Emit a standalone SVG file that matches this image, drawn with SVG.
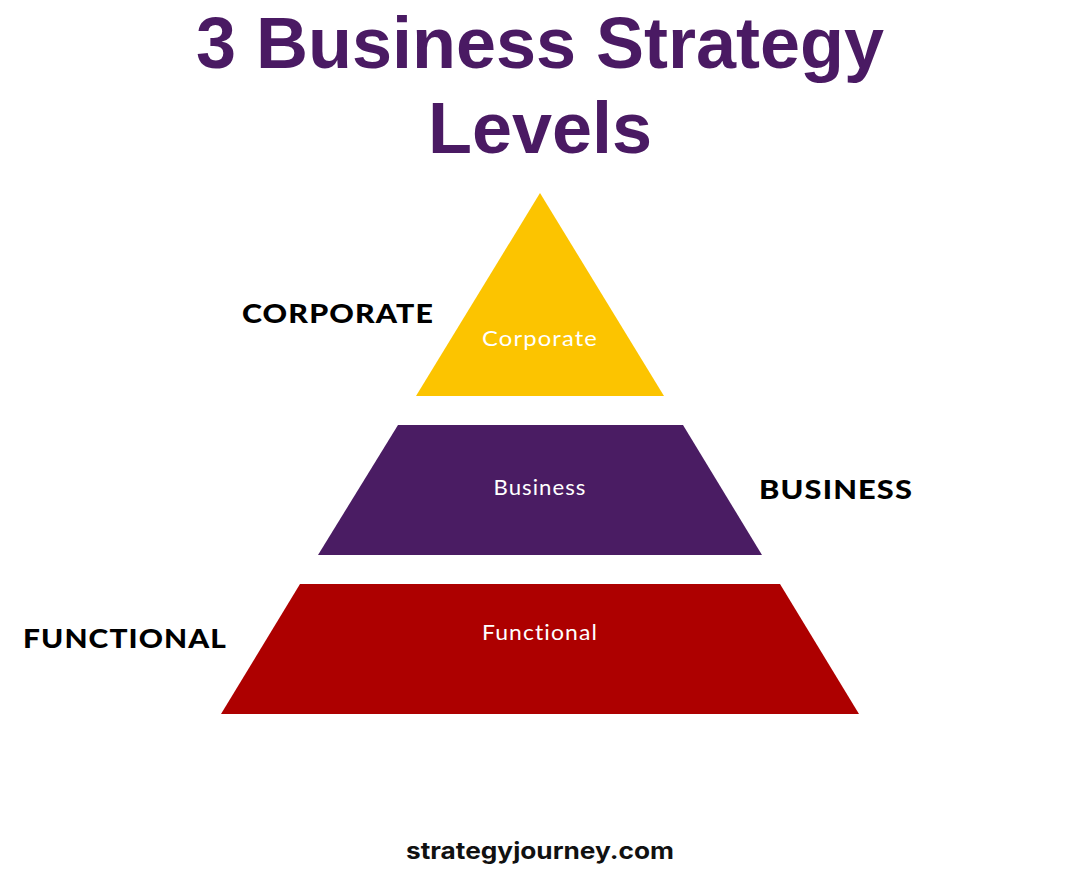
<svg xmlns="http://www.w3.org/2000/svg" width="1080" height="880" viewBox="0 0 1080 880">
<style>
.title{font-family:"Liberation Sans",Arial,sans-serif;font-weight:bold;font-size:72px;fill:#4A1A63;text-anchor:middle}
.side{font-family:Lato,"Noto Sans",sans-serif;font-weight:900;font-size:27px;letter-spacing:1px;fill:#000}
.inner{font-family:Lato,"Open Sans",sans-serif;font-weight:400;font-size:21px;letter-spacing:1px;fill:#fff;text-anchor:middle}
.foot{font-family:Inter,"Liberation Sans",sans-serif;font-weight:700;font-size:23px;fill:#111}
</style>
<rect width="1080" height="880" fill="#fff"/>
<g id="title">
<text class="title" x="540" y="68" textLength="688" lengthAdjust="spacingAndGlyphs">3 Business Strategy</text>
<text class="title" x="540" y="153">Levels</text>
</g>
<g id="corporate">
<polygon points="540,193 664,396 416,396" fill="#FCC400"/>
<text class="inner" x="540" y="346" textLength="116" lengthAdjust="spacingAndGlyphs">Corporate</text>
<text class="side" x="242" y="323" textLength="192" lengthAdjust="spacingAndGlyphs">CORPORATE</text>
</g>
<g id="business">
<polygon points="398,425 683,425 762,555 318,555" fill="#4A1C63"/>
<text class="inner" x="540" y="495" textLength="93" lengthAdjust="spacingAndGlyphs">Business</text>
<text class="side" x="759" y="499" textLength="154" lengthAdjust="spacingAndGlyphs">BUSINESS</text>
</g>
<g id="functional">
<polygon points="300,584 780,584 859,714 221,714" fill="#AD0000"/>
<text class="inner" x="540" y="640" textLength="116" lengthAdjust="spacingAndGlyphs">Functional</text>
<text class="side" x="23" y="648" textLength="204" lengthAdjust="spacingAndGlyphs">FUNCTIONAL</text>
</g>
<g id="connectors"></g>
<g id="footer">
<text class="foot" x="406" y="859" textLength="268" lengthAdjust="spacingAndGlyphs">strategyjourney.com</text>
</g>
</svg>
